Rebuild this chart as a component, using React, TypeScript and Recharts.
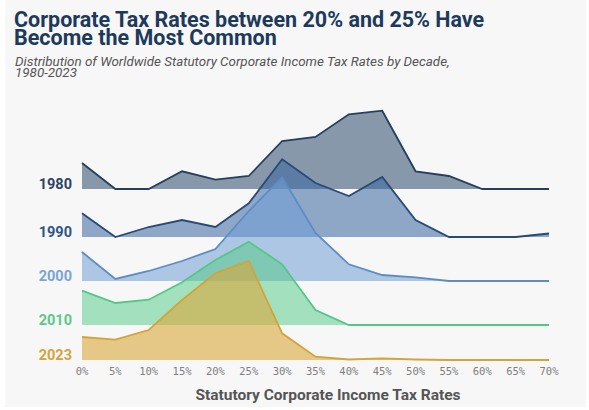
import { Area, ComposedChart, ReferenceLine, XAxis, YAxis } from 'recharts'

// tax-rate buckets (x axis)
const rates = [0, 5, 10, 15, 20, 25, 30, 35, 40, 45, 50, 55, 60, 65, 70]

// relative share of countries per bucket
const s1980 = [26, 0, 0, 17.7, 9.3, 13, 48, 52, 74.7, 78.3, 17.7, 13, 0, 0, 0]
const s1990 = [23.7, 0, 10, 17, 10, 33.7, 77.7, 54, 41, 60, 17, 0, 0, 0, 3.5]
const s2000 = [29, 2, 10, 20, 32, 70, 103.7, 48, 16.7, 6, 3.7, 0, 0, 0, 0]
const s2010 = [34.3, 22, 25.3, 42.7, 65, 83.3, 60.7, 15, 0, 0, 0, 0, 0, 0, 0]
const s2023 = [23, 20.3, 30, 60, 86.7, 99, 26.7, 3.3, 0.5, 1.7, 0.5, 0, 0, 0, 0]

const decades = ['1980', '1990', '2000', '2010', '2023']
const values = [s1980, s1990, s2000, s2010, s2023]

// ridge baselines (in y-axis units) and colours
const offsets = [171, 123, 79, 35, 0]
const fills = ['#2d4a6e', '#3a66a0', '#6f9fd6', '#4fc984', '#d9a93a']
const fillOpacity = [0.55, 0.55, 0.55, 0.5, 0.6]
const strokes = ['#243f5f', '#284a75', '#5d8cc4', '#52c885', '#d2a43a']
const labelColors = ['#2b4563', '#2f5585', '#7aa5d3', '#5cc98a', '#d2a43a']

const data = rates.map((rate, i) => {
  const row: Record<string, number> = { rate }
  decades.forEach((d, k) => {
    row[d] = values[k][i] + offsets[k]
  })
  return row
})

function YearLabel(props: any) {
  const { viewBox, text, color } = props
  if (!viewBox) return null
  return (
    <text
      x={viewBox.x - 10}
      y={viewBox.y}
      textAnchor="end"
      fill={color}
      fontFamily="Roboto"
      fontWeight={700}
      fontSize={14.5}
    >
      {text}
    </text>
  )
}

export default function App() {
  return (
    <div style={{ position: 'absolute', left: 0, top: 0, width: 589, height: 410, background: '#fff' }}>
      <div style={{ position: 'absolute', left: 5, top: 0, width: 581, height: 407, background: '#f7f7f7' }} />
      <div
        style={{
          position: 'absolute',
          left: 14,
          top: 10.5,
          fontFamily: 'Roboto',
          fontWeight: 700,
          fontSize: 21.5,
          lineHeight: '18.7px',
          color: '#1d3a5c',
          whiteSpace: 'nowrap',
        }}
      >
        Corporate Tax Rates between 20% and 25% Have
        <br />
        Become the Most Common
      </div>
      <div
        style={{
          position: 'absolute',
          left: 15,
          top: 55.6,
          fontFamily: 'Roboto',
          fontStyle: 'italic',
          fontSize: 13.4,
          lineHeight: '11.3px',
          color: '#555',
          whiteSpace: 'nowrap',
        }}
      >
        Distribution of Worldwide Statutory Corporate Income Tax Rates by Decade,
        <br />
        1980-2023
      </div>

      <div style={{ position: 'absolute', left: 0, top: 0 }}>
        <ComposedChart width={589} height={410} data={data} margin={{ top: 100, right: 40, bottom: 30, left: 82 }}>
          <XAxis
            dataKey="rate"
            type="number"
            domain={[0, 70]}
            ticks={rates}
            interval={0}
            tickFormatter={(v) => `${v}%`}
            axisLine={false}
            tickLine={false}
            height={20}
            tick={{ fill: '#808080', fontSize: 10.5, fontFamily: 'DejaVu Sans Mono' }}
          />
          <YAxis hide domain={[0, 260]} />
          {decades.map((d, k) => (
            <Area
              key={d}
              type="linear"
              dataKey={d}
              baseValue={offsets[k]}
              fill={fills[k]}
              fillOpacity={fillOpacity[k]}
              stroke={strokes[k]}
              strokeWidth={1.8}
              isAnimationActive={false}
            />
          ))}
          {decades.map((d, k) => (
            <ReferenceLine
              key={'l' + d}
              y={offsets[k]}
              stroke="none"
              label={<YearLabel text={d} color={labelColors[k]} />}
            />
          ))}
        </ComposedChart>
      </div>

      <div
        style={{
          position: 'absolute',
          left: 128,
          top: 387.5,
          width: 400,
          textAlign: 'center',
          fontFamily: 'Roboto',
          fontWeight: 700,
          fontSize: 15.5,
          lineHeight: '15px',
          color: '#555',
        }}
      >
        Statutory Corporate Income Tax Rates
      </div>
    </div>
  )
}
